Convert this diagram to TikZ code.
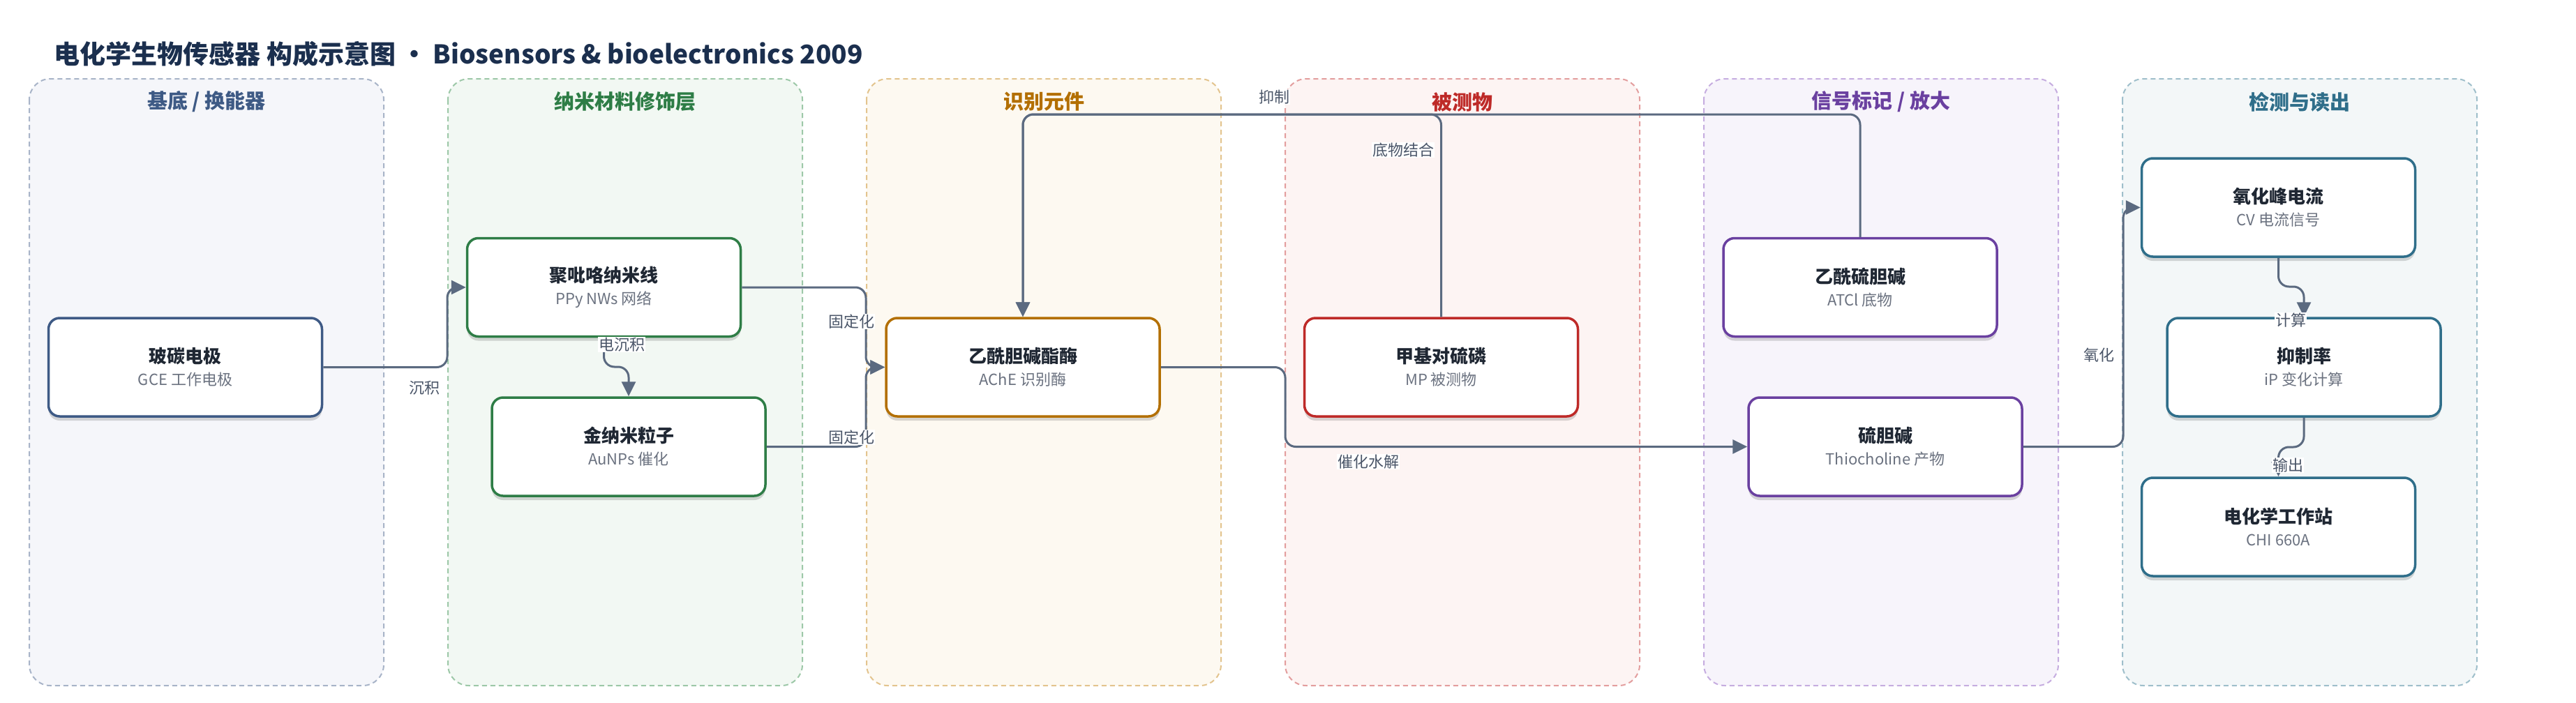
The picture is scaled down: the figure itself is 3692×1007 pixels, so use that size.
\documentclass[tikz,border=0pt]{standalone}
\usepackage{fontspec}
\setmainfont{Noto Sans CJK SC}
\usetikzlibrary{arrows.meta,shadows}

\definecolor{titleink}{HTML}{1B2F4E}
\definecolor{boxink}{HTML}{1F2733}
\definecolor{subink}{HTML}{6B7280}
\definecolor{edgeink}{HTML}{5B6A80}
\definecolor{labelink}{HTML}{4A5568}
% lane colours: line, fill, head
\definecolor{laneAline}{HTML}{A8B4C8}\definecolor{laneAfill}{HTML}{F5F6FA}\definecolor{laneAhead}{HTML}{3E5A85}
\definecolor{laneBline}{HTML}{9DC8A8}\definecolor{laneBfill}{HTML}{F2F8F3}\definecolor{laneBhead}{HTML}{2E7D46}
\definecolor{laneCline}{HTML}{E3C48E}\definecolor{laneCfill}{HTML}{FDF9F1}\definecolor{laneChead}{HTML}{B36F00}
\definecolor{laneDline}{HTML}{E39E9E}\definecolor{laneDfill}{HTML}{FDF4F3}\definecolor{laneDhead}{HTML}{BE2A28}
\definecolor{laneEline}{HTML}{C6ADE0}\definecolor{laneEfill}{HTML}{F7F4FB}\definecolor{laneEhead}{HTML}{6A40A0}
\definecolor{laneFline}{HTML}{9FBFCB}\definecolor{laneFfill}{HTML}{F3F7F8}\definecolor{laneFhead}{HTML}{2F6E8A}

\newcommand{\boxtitle}[1]{{\fontsize{26}{32}\selectfont\bfseries\color{boxink}#1}}
\newcommand{\boxsub}[1]{{\fontsize{22}{32}\selectfont\color{subink}#1}}

\tikzset{
  lane/.style 2 args={draw=#1, fill=#2, line width=2pt, dash pattern=on 7pt off 5pt, rounded corners=30pt},
  header/.style={text=#1, font=\fontsize{29}{34}\selectfont\bfseries},
  box/.style={draw=#1, fill=white, line width=3.5pt, rounded corners=16pt,
    minimum width=392pt, minimum height=141pt, inner sep=0pt, align=center,
    font=\fontsize{22}{32}\selectfont,
    drop shadow={shadow xshift=0pt, shadow yshift=-6pt, opacity=0.15, fill=black}},
  flow/.style={draw=edgeink, line width=3pt, rounded corners=15pt, -{Triangle[length=21pt,width=20pt]}},
  elabel/.style={fill=white, text=labelink, font=\fontsize{22}{26}\selectfont, inner sep=1pt}
}

\begin{document}
\begin{tikzpicture}[x=1pt,y=-1pt]
  \fill[white] (0,0) rectangle (3692,1007);
  \useasboundingbox (0,0) rectangle (3692,1007);
  % title
  \node[anchor=west, text=titleink, font=\fontsize{37}{44}\selectfont\bfseries] (title) at (74,77)
    {电化学生物传感器 构成示意图 • Biosensors \& bioelectronics 2009};
  % lanes
  \draw[lane={laneAline}{laneAfill}] (42,113) rectangle (550,983);
  \draw[lane={laneBline}{laneBfill}] (642,113) rectangle (1150,983);
  \draw[lane={laneCline}{laneCfill}] (1242,113) rectangle (1750,983);
  \draw[lane={laneDline}{laneDfill}] (1842,113) rectangle (2350,983);
  \draw[lane={laneEline}{laneEfill}] (2442,113) rectangle (2950,983);
  \draw[lane={laneFline}{laneFfill}] (3042,113) rectangle (3550,983);
  \node[header=laneAhead] (headA) at (296,146) {基底 / 换能器};
  \node[header=laneBhead] (headB) at (896,146) {纳米材料修饰层};
  \node[header=laneChead] (headC) at (1496,146) {识别元件};
  \node[header=laneDhead] (headD) at (2096,146) {被测物};
  \node[header=laneEhead] (headE) at (2696,146) {信号标记 / 放大};
  \node[header=laneFhead] (headF) at (3296,146) {检测与读出};
  % nodes set with absolute coordinates
  \node[box=laneAhead] (gce) at (265.5,526.5) {\boxtitle{玻碳电极}\\\boxsub{GCE 工作电极}};
  \node[box=laneBhead] (ppy) at (865.5,412) {\boxtitle{聚吡咯纳米线}\\\boxsub{PPy NWs 网络}};
  \node[box=laneBhead] (aunp) at (901,640.5) {\boxtitle{金纳米粒子}\\\boxsub{AuNPs 催化}};
  \node[box=laneChead] (ache) at (1466,526.5) {\boxtitle{乙酰胆碱酯酶}\\\boxsub{AChE 识别酶}};
  \node[box=laneDhead] (mp) at (2065.5,526.5) {\boxtitle{甲基对硫磷}\\\boxsub{MP 被测物}};
  \node[box=laneEhead] (atcl) at (2666,412) {\boxtitle{乙酰硫胆碱}\\\boxsub{ATCl 底物}};
  \node[box=laneEhead] (thio) at (2702,640.5) {\boxtitle{硫胆碱}\\\boxsub{Thiocholine 产物}};
  \node[box=laneFhead] (ox) at (3265.5,297.5) {\boxtitle{氧化峰电流}\\\boxsub{CV 电流信号}};
  \node[box=laneFhead] (rate) at (3302,526.5) {\boxtitle{抑制率}\\\boxsub{iP 变化计算}};
  \node[box=laneFhead] (chi) at (3265.5,755.5) {\boxtitle{电化学工作站}\\\boxsub{CHI 660A}};
  % directed edges
  \draw[flow] (gce.east) -| (641,412) -- (ppy.west);
  \draw[flow] (ppy.south) -- (865.5,526) -| (aunp.north);
  \draw[flow] (ppy.east) -| (1241,526.5) -- (ache.west);
  \draw[flow] (aunp.east) -| (1241,526.5) -- (ache.west);
  \draw[flow] (ache.east) -| (1842,640.5) -- (thio.west);
  \draw[flow] (mp.north) |- (1466,164) -- (ache.north);
  \draw[flow] (atcl.north) |- (1466,164) -- (ache.north);
  \draw[flow] (thio.east) -| (3043,297.5) -- (ox.west);
  \draw[flow] (ox.south) -- (3265.5,411) -| (rate.north);
  \draw[flow] (rate.south) -- (3302,641) -| (chi.north);
  % edge labels
  \node[elabel] (lgce) at (608,556) {沉积};
  \node[elabel] (lppy) at (891,494) {电沉积};
  \node[elabel] (lfixa) at (1220,461) {固定化};
  \node[elabel] (lfixb) at (1220,627) {固定化};
  \node[elabel] (lhyd) at (1961,662) {催化水解};
  \node[elabel] (linh) at (1826,139) {抑制};
  \node[elabel] (lsub) at (2011,215) {底物结合};
  \node[elabel] (loxi) at (3008,509) {氧化};
  \node[elabel] (lcal) at (3283,459) {计算};
  \node[elabel] (lout) at (3279,667) {输出};
\end{tikzpicture}
\end{document}
